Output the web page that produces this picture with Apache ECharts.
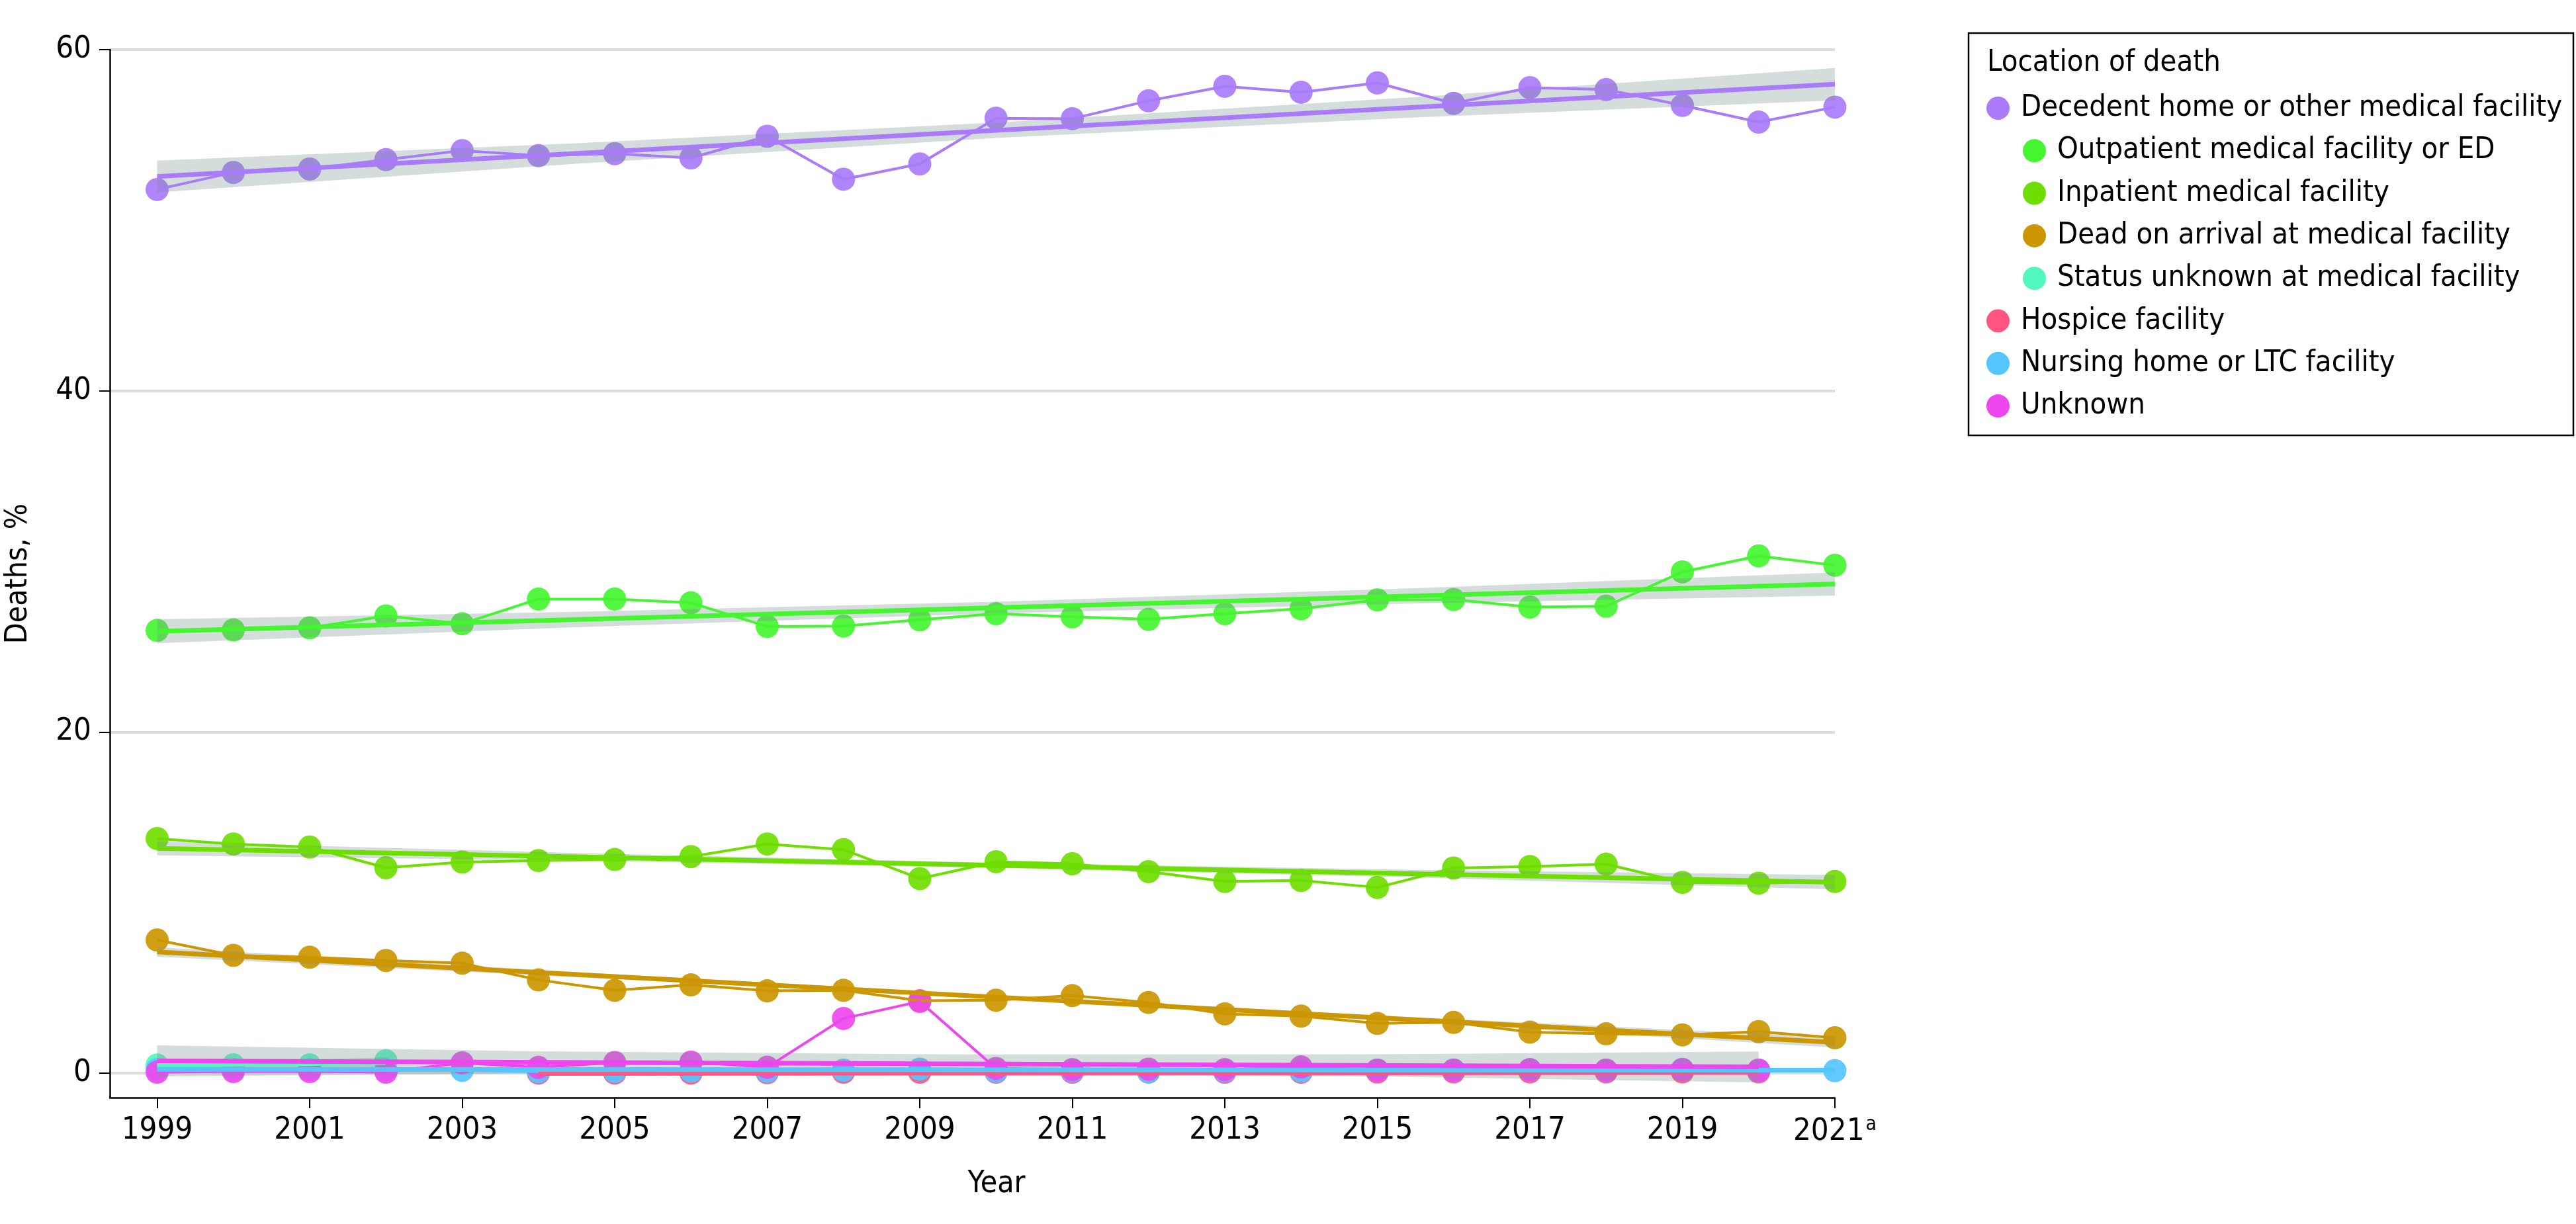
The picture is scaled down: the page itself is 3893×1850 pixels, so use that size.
<!DOCTYPE html>
<html>
<head>
<meta charset="utf-8">
<script src="https://cdn.jsdelivr.net/npm/echarts@6/dist/echarts.min.js"></script>
<style>
html,body{margin:0;padding:0;background:#fff;}
#chart{width:3893px;height:1850px;}
</style>
</head>
<body>
<div id="chart"></div>
<script>
// ---------------- DATA ----------------
const YEARS = [1999,2000,2001,2002,2003,2004,2005,2006,2007,2008,2009,2010,2011,2012,2013,2014,2015,2016,2017,2018,2019,2020,2021];
const X_TICKS = [1999,2001,2003,2005,2007,2009,2011,2013,2015,2017,2019,2021];
const Y_TICKS = [0,20,40,60];

const NAMES = [
  'Decedent home or other medical facility',
  'Outpatient medical facility or ED',
  'Inpatient medical facility',
  'Dead on arrival at medical facility',
  'Status unknown at medical facility',
  'Hospice facility',
  'Nursing home or LTC facility',
  'Unknown'
];
const INDENTED = [false,true,true,true,true,false,false,false];

const S_DECEDENT   = [51.8,52.8,53.0,53.55,54.08,53.78,53.9,53.65,54.92,52.4,53.3,55.98,55.95,57.0,57.85,57.5,58.05,56.85,57.77,57.66,56.73,55.75,56.63];
const S_OUTPATIENT = [25.95,25.98,26.1,26.8,26.34,27.79,27.79,27.57,26.18,26.21,26.57,26.93,26.75,26.6,26.93,27.22,27.74,27.76,27.32,27.37,29.38,30.32,29.77];
const S_INPATIENT  = [13.75,13.43,13.25,12.04,12.37,12.46,12.52,12.69,13.43,13.1,11.4,12.39,12.27,11.81,11.23,11.29,10.88,12.02,12.11,12.25,11.18,11.13,11.23];
const S_DOA        = [7.8,6.9,6.79,6.6,6.44,5.46,4.85,5.17,4.82,4.85,4.24,4.27,4.54,4.14,3.47,3.34,2.91,2.97,2.4,2.3,2.24,2.43,2.07];
const S_STATUS     = [0.47,0.48,0.48,0.72,null,null,null,null,null,null,null,null,null,null,null,null,null,null,null,null,null,null,null];
const S_HOSPICE    = [null,null,null,null,null,0.0,0.0,0.0,0.02,0.05,0.05,0.05,0.05,0.06,0.05,0.05,0.06,0.07,0.07,0.07,0.07,0.07,null];
const S_NURSING    = [0.2,0.2,0.2,0.2,0.16,0.08,0.1,0.12,0.1,0.17,0.23,0.1,0.12,0.07,0.12,0.12,0.17,0.17,0.2,0.17,0.22,0.17,0.14];
const S_UNKNOWN    = [0.05,0.09,0.09,0.05,0.6,0.33,0.62,0.64,0.34,3.2,4.2,0.27,0.2,0.23,0.2,0.36,0.17,0.17,0.2,0.17,0.2,0.17,null];

// fitted trend lines (end points)
const TREND_X = [[1999,2021],[1999,2021],[1999,2021],[1999,2021],[1999,2002],[2004,2020],[1999,2021],[1999,2020]];
const TREND_Y = [[52.56,57.97],[25.9,28.67],[13.17,11.19],[7.1,1.8],[0.44,0.62],[-0.02,0.03],[0.22,0.17],[0.71,0.36]];

// confidence bands
const BAND_X = [
  [1999,2004.5,2010,2015.5,2021],
  [1999,2004.5,2010,2015.5,2021],
  [1999,2004.5,2010,2015.5,2021],
  [1999,2004.5,2010,2015.5,2021],
  [1999,2000.5,2002],
  [2004,2012,2020],
  [1999,2010,2021],
  [1999,2004,2009.5,2015,2020]
];
const BAND_LO = [
  [51.63,53.31,54.82,56.02,57.02],
  [25.2,26.14,26.95,27.53,27.99],
  [12.77,12.46,12.03,11.47,10.77],
  [6.82,5.62,4.35,2.97,1.5],
  [0.14,0.33,0.32],
  [-0.06,-0.015,-0.01],
  [0.14,0.155,0.09],
  [-0.2,-0.02,-0.01,-0.2,-0.55]
];
const BAND_HI = [
  [53.49,54.51,55.72,57.22,58.92],
  [26.6,27.04,27.63,28.43,29.35],
  [13.57,12.9,12.33,11.91,11.61],
  [7.38,5.92,4.55,3.27,2.1],
  [0.74,0.73,0.92],
  [0.02,0.025,0.07],
  [0.3,0.235,0.25],
  [1.62,1.28,1.09,1.1,1.27]
];

const SERIES_VALUES = [S_DECEDENT,S_OUTPATIENT,S_INPATIENT,S_DOA,S_STATUS,S_HOSPICE,S_NURSING,S_UNKNOWN];
const COLORS = ['#A97BF8','#44F530','#6EDE00','#CC9600','#52F7BF','#FF5580','#55C5FF','#EE46EE'];

// ---------------- CHART ----------------
const FONT = '"DejaVu Sans Condensed", "DejaVu Sans", sans-serif';
const FS = 46;
const FS_TICK = 47;
const chart = echarts.init(document.getElementById('chart'), null, {renderer:'canvas'});

function pairs(vals){
  const out = [];
  vals.forEach((v,i)=>{ if(v!==null && v!==undefined) out.push([YEARS[i], v]); });
  return out;
}

const series = [];
// markers (bottom layer)
NAMES.forEach((n,i)=>{
  series.push({
    name:n, type:'scatter', z:2, symbol:'circle', symbolSize:35,
    itemStyle:{color:COLORS[i], opacity:0.92},
    data:pairs(SERIES_VALUES[i]), silent:true
  });
});
// confidence bands
NAMES.forEach((n,i)=>{
  series.push({
    name:'band'+i, type:'custom', z:3, silent:true,
    data:[[BAND_X[i][0], BAND_LO[i][0]]],
    renderItem:function(params, api){
      const pts = [];
      for(let k=0;k<BAND_X[i].length;k++) pts.push(api.coord([BAND_X[i][k], BAND_HI[i][k]]));
      for(let k=BAND_X[i].length-1;k>=0;k--) pts.push(api.coord([BAND_X[i][k], BAND_LO[i][k]]));
      return {type:'polygon', shape:{points:pts}, style:{fill:'rgba(120,145,145,0.32)'}};
    }
  });
});
// data lines
NAMES.forEach((n,i)=>{
  series.push({
    name:'line'+i, type:'line', z:4, showSymbol:false, silent:true,
    lineStyle:{color:COLORS[i], width:4}, itemStyle:{color:COLORS[i]},
    data:pairs(SERIES_VALUES[i])
  });
});
// trend lines
NAMES.forEach((n,i)=>{
  series.push({
    name:'trend'+i, type:'line', z:5, showSymbol:false, silent:true,
    lineStyle:{color:COLORS[i], width:7}, itemStyle:{color:COLORS[i]},
    data:[[TREND_X[i][0],TREND_Y[i][0]],[TREND_X[i][1],TREND_Y[i][1]]]
  });
});

// legends, one per row
const LEG_TOP0 = 159, LEG_STEP = 64.3;
const legends = NAMES.map((n,i)=>({
  show:true, orient:'vertical',
  left: INDENTED[i] ? 3052 : 2997,
  top: LEG_TOP0 + i*LEG_STEP - 23,
  icon:'circle', itemWidth:35, itemHeight:35, itemGap:0,
  selectedMode:false,
  itemStyle:{opacity:1},
  data:[n],
  textStyle:{fontSize:FS-1, fontFamily:FONT, color:'#000', padding:[0,0,0,12]}
}));

const option = {
  backgroundColor:'#fff',
  animation:false,
  grid:{left:166, right:1120, top:75, bottom:191, containLabel:false},
  legend:legends,
  xAxis:{
    type:'value', min:1998.38, max:2021,
    axisLine:{show:true, onZero:false, lineStyle:{color:'#000', width:2.5}},
    axisTick:{show:true, customValues:X_TICKS, length:16, lineStyle:{color:'#000', width:2}},
    axisLabel:{
      show:true, customValues:X_TICKS, margin:26,
      fontSize:FS_TICK, fontFamily:FONT, color:'#000',
      formatter:function(v){ return v===2021 ? '{n|2021}{s|a}' : '{n|'+v+'}'; },
      rich:{
        n:{fontSize:FS_TICK, fontFamily:FONT, color:'#000'},
        s:{fontSize:30, fontFamily:FONT, color:'#000', padding:[0,0,22,2]}
      }
    },
    splitLine:{show:false}
  },
  yAxis:{
    type:'value', min:-1.44, max:60,
    axisLine:{show:true, onZero:false, lineStyle:{color:'#000', width:2.5}},
    axisTick:{show:true, customValues:Y_TICKS, length:16, lineStyle:{color:'#000', width:2}},
    axisLabel:{show:true, customValues:Y_TICKS, margin:28, fontSize:FS_TICK, fontFamily:FONT, color:'#000'},
    splitLine:{show:true, lineStyle:{color:'#DCDCDC', width:4}}
  },
  graphic:[
    {type:'rect', z:10, shape:{x:2975, y:50, width:914, height:608},
     style:{fill:null, stroke:'#000', lineWidth:2.5}},
    {type:'text', z:10, x:3003, y:95, style:{text:'Location of death', font:(FS-1)+'px '+FONT, fill:'#000', textAlign:'left', textVerticalAlign:'middle'}},
    {type:'text', z:10, x:1506, y:1790, style:{text:'Year', font:FS+'px '+FONT, fill:'#000', textAlign:'center', textVerticalAlign:'middle'}},
    {type:'text', z:10, x:28, y:867, rotation:Math.PI/2, style:{text:'Deaths, %', font:FS+'px '+FONT, fill:'#000', textAlign:'center', textVerticalAlign:'middle'}}
  ],
  series:series
};
chart.setOption(option);
</script>
</body>
</html>
